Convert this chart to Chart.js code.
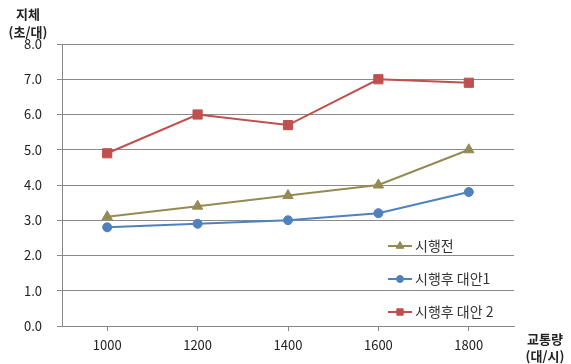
<!DOCTYPE html>
<html>
<head>
<meta charset="utf-8">
<script src="https://cdn.jsdelivr.net/npm/chart.js@4/dist/chart.umd.min.js"></script>
<style>
  html, body { margin: 0; padding: 0; background: #fff; }
  #wrap { width: 571px; height: 364px; }
</style>
</head>
<body>
<div id="wrap"><canvas id="delayChart"></canvas></div>
<script>
const volumes = ['1000', '1200', '1400', '1600', '1800'];
const seriesNames = ['시행전', '시행후 대안1', '시행후 대안 2'];
const before = [3.1, 3.4, 3.7, 4.0, 5.0];
const alt1 = [2.8, 2.9, 3.0, 3.2, 3.8];
const alt2 = [4.9, 6.0, 5.7, 7.0, 6.9];
const yTitle = ['지체', '(초/대)'];
const xTitle = ['교통량', '(대/시)'];

const FONT = '"Noto Sans CJK KR", "Noto Sans", sans-serif';

// titles and an in-plot legend, drawn on top of the chart
const extras = {
  id: 'extras',
  afterDraw(chart) {
    const ctx = chart.ctx;
    ctx.save();
    ctx.fillStyle = '#222';
    ctx.font = 'bold 13px ' + FONT;
    ctx.textAlign = 'center';
    ctx.textBaseline = 'middle';
    ctx.fillText(yTitle[0], 28, 14);
    ctx.fillText(yTitle[1], 28, 32);
    ctx.fillText(xTitle[0], 545, 339);
    ctx.fillText(xTitle[1], 545, 356);

    const rows = [246, 279, 312];
    const sizes = [4.5, 3.5, 4.5];
    chart.data.datasets.forEach((ds, i) => {
      const y = rows[i];
      ctx.strokeStyle = ds.borderColor;
      ctx.lineWidth = 2;
      ctx.beginPath();
      ctx.moveTo(388, y);
      ctx.lineTo(412, y);
      ctx.stroke();
      ctx.fillStyle = ds.backgroundColor;
      ctx.lineWidth = 1;
      Chart.helpers.drawPoint(ctx, {
        pointStyle: ds.pointStyle,
        radius: sizes[i],
        borderWidth: 1
      }, 400, y);
      ctx.fillStyle = '#333';
      ctx.font = '14px ' + FONT;
      ctx.textAlign = 'left';
      ctx.fillText(ds.label, 415, y);
    });
    ctx.restore();
  }
};

new Chart(document.getElementById('delayChart'), {
  type: 'line',
  data: {
    labels: volumes,
    datasets: [
      { label: seriesNames[0], data: before, borderColor: '#948A54', backgroundColor: '#948A54',
        pointStyle: 'triangle', pointRadius: 6 },
      { label: seriesNames[1], data: alt1, borderColor: '#4F81BD', backgroundColor: '#4F81BD',
        pointStyle: 'circle', pointRadius: 4.5 },
      { label: seriesNames[2], data: alt2, borderColor: '#C0504D', backgroundColor: '#C0504D',
        pointStyle: 'rect', pointRadius: 6.5 }
    ]
  },
  options: {
    responsive: true,
    maintainAspectRatio: false,
    animation: false,
    elements: {
      line: { borderWidth: 2, tension: 0 },
      point: { borderWidth: 1 }
    },
    layout: { padding: { top: 44, right: 57, bottom: 0, left: 0 } },
    plugins: {
      legend: { display: false },
      tooltip: { enabled: false }
    },
    scales: {
      x: {
        offset: true,
        afterFit(scale) { scale.height = 38; },
        grid: { drawOnChartArea: false, drawTicks: true, tickLength: 5, color: '#888' },
        border: { color: '#888' },
        ticks: { color: '#222', padding: 6, font: { size: 13, family: FONT } }
      },
      y: {
        min: 0,
        max: 8,
        afterFit(scale) { scale.width = 62; },
        grid: { color: '#8a8a8a', tickLength: 5 },
        border: { color: '#888' },
        ticks: {
          stepSize: 1,
          color: '#222',
          padding: 15,
          font: { size: 13, family: FONT },
          callback: v => v.toFixed(1)
        }
      }
    }
  },
  plugins: [extras]
});
</script>
</body>
</html>
